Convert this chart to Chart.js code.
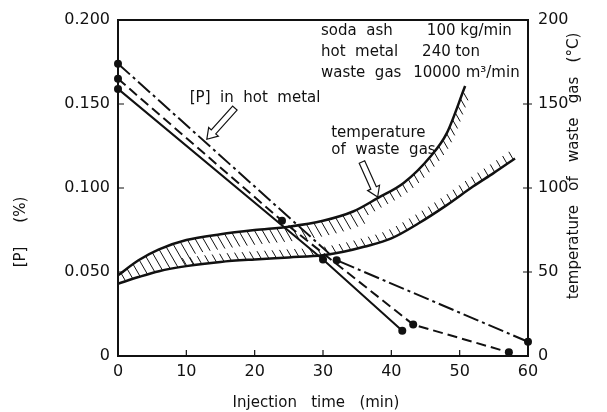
<!DOCTYPE html>
<html>
<head>
<meta charset="utf-8">
<script src="https://cdn.jsdelivr.net/npm/chart.js@4.4.1/dist/chart.umd.min.js"></script>
<style>
  html, body { margin: 0; padding: 0; background: #fff; }
  #wrap { width: 607px; height: 412px; }
</style>
</head>
<body>
<div id="wrap"><canvas id="chart" width="607" height="412"></canvas></div>
<script>
// [P] in hot metal for three runs: injection time (min) and [P] (%)
const runATime = [0, 30, 41.6];
const runAP = [0.159, 0.0575, 0.015];
const runBTime = [0, 24, 43.2, 57.2];
const runBP = [0.165, 0.0805, 0.0187, 0.0022];
const runCTime = [0, 32, 60];
const runCP = [0.174, 0.057, 0.0085];

// waste gas temperature band (°C), upper and lower bounds
const gasHighTime = [0, 3, 6, 10, 15, 20, 25, 30, 34.4, 38, 41.8, 45.7, 48.1, 50.8];
const gasHighTemp = [48, 57, 63.5, 69, 72.5, 75, 77, 80.5, 86, 94, 103, 118.6, 132.5, 160.7];
const gasLowTime = [0, 3, 6, 10, 15, 20, 25, 30, 33, 36, 40, 44, 48, 52, 55, 58.1];
const gasLowTemp = [43, 47, 50.5, 53.5, 56, 57.5, 58.7, 60, 62, 65, 70, 79, 89.5, 101, 109, 117.6];

const timeTicks = [0, 10, 20, 30, 40, 50, 60];
const pTicks = [0, 0.05, 0.1, 0.15, 0.2];
const tempTicks = [0, 50, 100, 150, 200];

const conditions = [
  ['soda ash', '100 kg/min', 193.5, 45.2],
  ['hot metal', '240 ton', 181, 44.5],
  ['waste gas', '10000 m³/min', 168.5, 43.2]
];

const FONT = "'DejaVu Sans', sans-serif";
const INK = '#111';

const toXY = (xs, ys) => xs.map((x, i) => ({ x: x, y: ys[i] }));

function run(xs, ys, dash) {
  return {
    data: toXY(xs, ys),
    yAxisID: 'y',
    borderColor: INK,
    borderWidth: 2,
    borderDash: dash,
    pointRadius: 4,
    pointBackgroundColor: INK,
    pointBorderWidth: 0,
    tension: 0,
    clip: false
  };
}

function bound(xs, ys) {
  return {
    data: toXY(xs, ys),
    yAxisID: 'y1',
    borderColor: INK,
    borderWidth: 2.5,
    pointRadius: 0,
    cubicInterpolationMode: 'monotone',
    clip: false
  };
}

// turn a monotone spline into a dense polyline
function sampleCurve(meta) {
  const pts = meta.data;
  const out = [];
  for (let i = 0; i < pts.length - 1; i++) {
    const a = pts[i], b = pts[i + 1];
    const c1x = a.cp2x ?? a.x, c1y = a.cp2y ?? a.y;
    const c2x = b.cp1x ?? b.x, c2y = b.cp1y ?? b.y;
    for (let k = 0; k < 24; k++) {
      const t = k / 24, u = 1 - t;
      out.push({
        x: u * u * u * a.x + 3 * u * u * t * c1x + 3 * u * t * t * c2x + t * t * t * b.x,
        y: u * u * u * a.y + 3 * u * u * t * c1y + 3 * u * t * t * c2y + t * t * t * b.y
      });
    }
  }
  const last = pts[pts.length - 1];
  out.push({ x: last.x, y: last.y });
  return out;
}

function yOn(poly, x) {
  if (x < poly[0].x || x > poly[poly.length - 1].x) return null;
  for (let i = 1; i < poly.length; i++) {
    if (poly[i].x >= x) {
      const a = poly[i - 1], b = poly[i];
      const f = (x - a.x) / ((b.x - a.x) || 1);
      return a.y + f * (b.y - a.y);
    }
  }
  return null;
}

function stepsAlong(poly, step) {
  const res = [];
  let next = step / 2, acc = 0;
  for (let i = 1; i < poly.length; i++) {
    const a = poly[i - 1], b = poly[i];
    const d = Math.hypot(b.x - a.x, b.y - a.y);
    while (d > 0 && acc + d >= next) {
      const f = (next - acc) / d;
      res.push({ x: a.x + f * (b.x - a.x), y: a.y + f * (b.y - a.y) });
      next += step;
    }
    acc += d;
  }
  return res;
}

// hatching between the two temperature bounds
const bandHatch = {
  id: 'bandHatch',
  beforeDatasetsDraw(chart) {
    const ctx = chart.ctx;
    const hi = chart.getDatasetMeta(3), lo = chart.getDatasetMeta(4);
    hi.dataset.updateControlPoints(chart.chartArea, 'x');
    lo.dataset.updateControlPoints(chart.chartArea, 'x');
    const up = sampleCurve(hi), dn = sampleCurve(lo);
    const ue = up[up.length - 1], de = dn[dn.length - 1];

    ctx.save();
    ctx.beginPath();
    up.forEach((p, i) => (i ? ctx.lineTo(p.x, p.y) : ctx.moveTo(p.x, p.y)));
    ctx.lineTo(ue.x + 120, ue.y);
    ctx.lineTo(de.x + 20, de.y);
    for (let i = dn.length - 1; i >= 0; i--) ctx.lineTo(dn[i].x, dn[i].y);
    ctx.closePath();
    ctx.clip();

    const dx = 0.5, dy = 0.866;
    ctx.strokeStyle = INK;
    ctx.lineWidth = 1;
    ctx.beginPath();
    stepsAlong(up, 7.5).forEach(p => {
      const yl = yOn(dn, p.x);
      const w = yl === null ? 999 : yl - p.y;
      const len = w < 26 ? 40 : (w < 40 ? 16 : 10);
      ctx.moveTo(p.x, p.y);
      ctx.lineTo(p.x + dx * len, p.y + dy * len);
    });
    stepsAlong(dn, 7.5).forEach(p => {
      const yu = yOn(up, p.x);
      const w = yu === null ? 999 : p.y - yu;
      if (w < 26) return;
      ctx.moveTo(p.x, p.y);
      ctx.lineTo(p.x - dx * 9, p.y - dy * 9);
    });
    ctx.stroke();
    ctx.restore();
  }
};

function hollowArrow(ctx, tail, tip) {
  const dx = tip.x - tail.x, dy = tip.y - tail.y, L = Math.hypot(dx, dy);
  const ux = dx / L, uy = dy / L, nx = -uy, ny = ux;
  const sw = 3, hw = 6.5, hl = 10;
  const bx = tip.x - ux * hl, by = tip.y - uy * hl;
  ctx.beginPath();
  ctx.moveTo(tail.x + nx * sw, tail.y + ny * sw);
  ctx.lineTo(bx + nx * sw, by + ny * sw);
  ctx.lineTo(bx + nx * hw, by + ny * hw);
  ctx.lineTo(tip.x, tip.y);
  ctx.lineTo(bx - nx * hw, by - ny * hw);
  ctx.lineTo(bx - nx * sw, by - ny * sw);
  ctx.lineTo(tail.x - nx * sw, tail.y - ny * sw);
  ctx.closePath();
  ctx.fillStyle = '#fff';
  ctx.fill();
  ctx.strokeStyle = INK;
  ctx.lineWidth = 1.2;
  ctx.stroke();
}

// frame, inward ticks, labels, arrows and axis titles
const decorations = {
  id: 'decorations',
  afterDatasetsDraw(chart) {
    const ctx = chart.ctx;
    const { left, right, top, bottom } = chart.chartArea;
    const sx = chart.scales.x, sy = chart.scales.y, st = chart.scales.y1;

    ctx.save();
    ctx.strokeStyle = INK;
    ctx.lineWidth = 2;
    ctx.strokeRect(left, top, right - left, bottom - top);

    ctx.lineWidth = 1.2;
    ctx.beginPath();
    pTicks.slice(1, -1).forEach(v => {
      const y = sy.getPixelForValue(v);
      ctx.moveTo(left, y); ctx.lineTo(left + 6, y);
    });
    tempTicks.slice(1, -1).forEach(v => {
      const y = st.getPixelForValue(v);
      ctx.moveTo(right - 5, y); ctx.lineTo(right + 4, y);
    });
    timeTicks.slice(1, -1).forEach(v => {
      const x = sx.getPixelForValue(v);
      ctx.moveTo(x, bottom); ctx.lineTo(x, bottom - 6);
    });
    ctx.stroke();

    // labels with arrows
    hollowArrow(ctx,
      { x: sx.getPixelForValue(17.1), y: sy.getPixelForValue(0.1476) },
      { x: sx.getPixelForValue(13.0), y: sy.getPixelForValue(0.129) });
    hollowArrow(ctx,
      { x: sx.getPixelForValue(35.7), y: st.getPixelForValue(115.5) },
      { x: sx.getPixelForValue(38.0), y: st.getPixelForValue(94.6) });

    ctx.fillStyle = INK;
    ctx.font = '15px ' + FONT;
    ctx.textBaseline = 'middle';
    ctx.textAlign = 'left';
    ctx.fillText('[P]  in  hot  metal', sx.getPixelForValue(10.5), sy.getPixelForValue(0.1535));
    ctx.fillText('temperature', sx.getPixelForValue(31.2), st.getPixelForValue(132.7));
    ctx.fillText('of  waste  gas', sx.getPixelForValue(31.2), st.getPixelForValue(122.6));

    conditions.forEach(([name, value, t, vx]) => {
      const y = st.getPixelForValue(t);
      ctx.fillText(name.replace(' ', '  '), sx.getPixelForValue(29.7), y);
      ctx.fillText(value, sx.getPixelForValue(vx), y);
    });

    // axis titles
    ctx.textAlign = 'center';
    ctx.fillText('Injection   time   (min)', (left + right) / 2 - 7, 403);

    ctx.save();
    ctx.translate(21, 232);
    ctx.rotate(-Math.PI / 2);
    ctx.fillText('[P]     (%)', 0, 0);
    ctx.restore();

    ctx.save();
    ctx.translate(574, 166);
    ctx.rotate(-Math.PI / 2);
    ctx.fillText('temperature   of   waste   gas   (°C)', 0, 0);
    ctx.restore();

    ctx.restore();
  }
};

const tickFont = { family: FONT, size: 16 };

new Chart(document.getElementById('chart'), {
  type: 'line',
  data: {
    datasets: [
      run(runATime, runAP, []),
      run(runBTime, runBP, [10, 5]),
      run(runCTime, runCP, [16, 4, 3, 4]),
      bound(gasHighTime, gasHighTemp),
      bound(gasLowTime, gasLowTemp)
    ]
  },
  options: {
    responsive: false,
    animation: false,
    layout: { padding: { top: 20, left: 0, right: 0, bottom: 0 } },
    plugins: { legend: { display: false }, tooltip: { enabled: false } },
    scales: {
      x: {
        type: 'linear',
        min: 0,
        max: 60,
        afterFit: s => { s.height = 56; },
        afterBuildTicks: s => { s.ticks = timeTicks.map(v => ({ value: v })); },
        grid: { display: false, drawTicks: false },
        border: { display: false },
        ticks: { font: tickFont, color: INK, padding: 6, maxRotation: 0 }
      },
      y: {
        position: 'left',
        min: 0,
        max: 0.2,
        afterFit: s => { s.width = 118; },
        afterBuildTicks: s => { s.ticks = pTicks.map(v => ({ value: v })); },
        grid: { display: false, drawTicks: false },
        border: { display: false },
        ticks: {
          font: tickFont, color: INK, padding: 8,
          callback: v => (v === 0 ? '0' : v.toFixed(3))
        }
      },
      y1: {
        position: 'right',
        min: 0,
        max: 200,
        afterFit: s => { s.width = 79; },
        afterBuildTicks: s => { s.ticks = tempTicks.map(v => ({ value: v })); },
        grid: { display: false, drawTicks: false },
        border: { display: false },
        ticks: { font: tickFont, color: INK, padding: 10, callback: v => String(v) }
      }
    }
  },
  plugins: [bandHatch, decorations]
});
</script>
</body>
</html>
